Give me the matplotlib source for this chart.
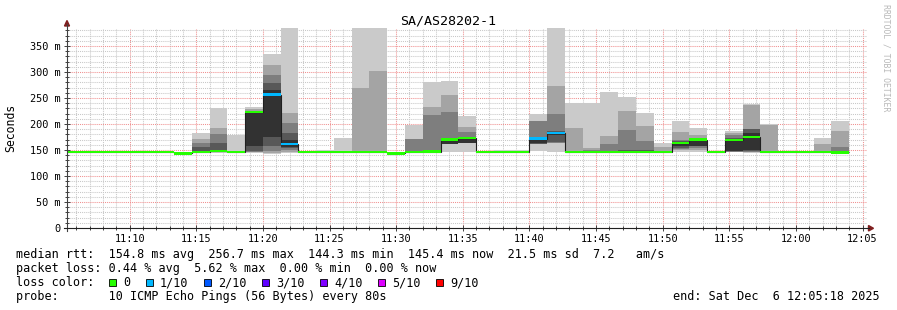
import datetime
import numpy as np
import matplotlib
matplotlib.use('Agg')
import matplotlib.pyplot as plt
from matplotlib import dates
from matplotlib.ticker import MultipleLocator, FuncFormatter
from matplotlib.patches import Rectangle, Polygon
from matplotlib.lines import Line2D

title = 'SA/AS28202-1'
graph_start = datetime.datetime(2025, 12, 6, 11, 5, 18)
graph_end = datetime.datetime(2025, 12, 6, 12, 5, 18)
first_bin = datetime.datetime(2025, 12, 6, 11, 5, 20)
step_seconds = 80

# median rtt per 80s bin (ms)
median_ms = [146.0, 146.0, 146.0, 146.0, 146.0, 146.0, 143.5, 146.0, 148.0, 146.0,
             222.5, 256.7, 161.0, 146.0, 146.0, 146.0, 146.0, 146.0, 143.5, 146.5,
             147.0, 170.0, 173.4, 146.0, 146.0, 146.0, 172.0, 183.0, 146.0, 145.5,
             146.0, 146.0, 146.0, 146.0, 164.0, 170.0, 146.0, 169.5, 175.6, 146.0,
             146.0, 146.0, 146.0, 145.4]

# lost pings out of 10 per bin
loss_tenths = [0, 0, 0, 0, 0, 0, 0, 0, 0, 0,
               0, 1, 1, 0, 0, 0, 0, 0, 0, 0,
               0, 0, 0, 0, 0, 0, 1, 1, 0, 0,
               0, 0, 0, 0, 0, 0, 0, 0, 0, 0,
               0, 0, 0, 0]

# the 10 sorted pings of every bin (ms), used for the smoke
pings_ms = [
    [145.8, 145.9, 146.0, 146.0, 146.0, 146.1, 146.2, 146.3, 146.5, 146.8],
    [145.8, 145.9, 146.0, 146.0, 146.0, 146.1, 146.2, 146.3, 146.5, 146.8],
    [145.8, 145.9, 146.0, 146.0, 146.0, 146.1, 146.2, 146.3, 146.5, 146.8],
    [145.8, 145.9, 146.0, 146.0, 146.0, 146.1, 146.2, 146.3, 146.5, 146.8],
    [145.8, 145.9, 146.0, 146.0, 146.0, 146.1, 146.2, 146.3, 146.5, 146.8],
    [145.8, 145.9, 146.0, 146.0, 146.0, 146.1, 146.2, 146.3, 146.5, 146.8],
    [143.0, 143.2, 143.3, 143.4, 143.5, 143.6, 143.7, 143.9, 144.2, 144.6],
    [145.0, 145.5, 146.0, 146.0, 146.5, 148.0, 156.0, 164.0, 172.0, 183.0],
    [145.0, 145.5, 146.0, 146.5, 147.0, 149.5, 164.0, 181.0, 192.0, 231.0],
    [145.0, 145.5, 145.5, 146.0, 146.0, 146.0, 146.5, 147.0, 148.0, 179.5],
    [145.0, 145.5, 146.0, 148.0, 158.0, 222.0, 223.0, 224.0, 228.0, 233.0],
    [142.0, 145.0, 149.0, 158.0, 175.0, 265.0, 278.0, 294.0, 313.0, 335.0],
    [145.0, 146.0, 150.0, 154.0, 156.0, 170.0, 183.0, 201.0, 222.0, 400.0],
    [145.8, 145.9, 146.0, 146.0, 146.0, 146.1, 146.2, 146.3, 146.5, 146.8],
    [145.8, 145.9, 146.0, 146.0, 146.0, 146.1, 146.2, 146.3, 146.5, 150.5],
    [145.8, 145.9, 146.0, 146.0, 146.0, 146.1, 146.2, 146.3, 146.5, 173.0],
    [145.8, 145.9, 146.0, 146.0, 146.0, 146.1, 146.2, 146.3, 269.0, 400.0],
    [145.8, 145.9, 146.0, 146.0, 146.0, 146.1, 146.2, 146.3, 301.0, 400.0],
    [143.0, 143.2, 143.3, 143.4, 143.5, 143.6, 143.7, 143.9, 144.2, 144.6],
    [146.0, 146.0, 146.0, 146.5, 146.5, 147.0, 147.5, 170.5, 171.0, 198.5],
    [146.0, 146.0, 146.5, 147.0, 147.0, 147.5, 148.0, 217.0, 233.0, 280.0],
    [146.0, 161.0, 161.0, 161.5, 162.0, 169.0, 171.0, 223.0, 256.0, 282.0],
    [146.0, 163.0, 163.0, 163.5, 164.0, 171.0, 174.0, 185.0, 195.0, 215.0],
    [145.8, 145.9, 146.0, 146.0, 146.0, 146.1, 146.2, 146.3, 146.5, 146.8],
    [145.8, 145.9, 146.0, 146.0, 146.0, 146.1, 146.2, 146.3, 146.5, 150.5],
    [145.8, 145.9, 146.0, 146.0, 146.0, 146.1, 146.2, 146.3, 146.5, 150.5],
    [149.0, 161.0, 162.0, 162.0, 163.0, 170.0, 173.0, 205.0, 206.0, 219.0],
    [146.0, 164.0, 164.0, 164.5, 178.0, 185.0, 186.0, 220.0, 273.0, 400.0],
    [146.0, 146.0, 146.5, 147.0, 147.0, 147.5, 148.0, 149.0, 193.0, 241.0],
    [145.0, 145.5, 146.0, 146.5, 147.0, 147.5, 148.0, 150.0, 154.0, 241.0],
    [146.0, 146.5, 147.0, 147.5, 148.0, 148.0, 149.0, 162.0, 177.5, 261.5],
    [146.0, 146.5, 147.0, 148.0, 148.5, 149.0, 150.0, 188.5, 225.5, 251.5],
    [146.0, 146.5, 147.0, 147.5, 148.0, 149.0, 150.0, 167.5, 196.0, 221.0],
    [146.0, 146.0, 146.5, 146.5, 147.0, 147.0, 147.5, 148.0, 156.0, 164.0],
    [146.0, 150.0, 152.0, 153.0, 158.0, 166.0, 168.0, 169.5, 184.5, 206.0],
    [146.0, 150.0, 153.0, 157.0, 158.0, 168.0, 170.0, 172.0, 178.5, 192.5],
    [145.8, 145.9, 146.0, 146.0, 146.0, 146.1, 146.2, 146.3, 146.5, 146.8],
    [146.0, 146.5, 147.0, 147.5, 148.0, 170.0, 173.0, 178.0, 182.0, 187.0],
    [145.0, 146.0, 147.0, 148.0, 150.0, 182.0, 190.0, 190.5, 236.0, 238.5],
    [146.0, 146.0, 146.5, 146.5, 147.0, 147.0, 147.5, 148.0, 197.5, 200.0],
    [145.8, 145.9, 146.0, 146.0, 146.0, 146.1, 146.2, 146.3, 146.5, 146.8],
    [145.8, 145.9, 146.0, 146.0, 146.0, 146.1, 146.2, 146.3, 146.5, 146.8],
    [146.0, 146.0, 146.0, 146.5, 146.5, 147.0, 147.0, 147.5, 161.5, 173.0],
    [145.5, 146.0, 146.5, 147.0, 147.5, 148.0, 149.0, 156.0, 187.0, 206.0],
]

loss_legend = ['0', '1/10', '2/10', '3/10', '4/10', '5/10', '9/10']
loss_legend_colors = ['#26ff00', '#00b8ff', '#0059ff', '#5e00ff', '#7e00ff', '#dd00ff', '#ff0000']
loss_color_of = {0: '#26ff00', 1: '#00b8ff', 2: '#0059ff', 3: '#5e00ff', 4: '#7e00ff', 5: '#dd00ff', 9: '#ff0000'}

rtt_line = 'median rtt:  154.8 ms avg  256.7 ms max  144.3 ms min  145.4 ms now  21.5 ms sd  7.2   am/s'
loss_line = 'packet loss: 0.44 % avg  5.62 % max  0.00 % min  0.00 % now'
probe_line = 'probe:       10 ICMP Echo Pings (56 Bytes) every 80s'
end_line = 'end: Sat Dec  6 12:05:18 2025'

smoke_shades = ['#cacaca', '#a4a4a4', '#7e7e7e', '#585858', '#323232']

W, H = 897, 310
Y_TOP = 384.6


def fx(px):
    return px / W


def fy(py):
    return 1 - py / H


plt.rcParams['font.family'] = 'DejaVu Sans Mono'

fig = plt.figure(figsize=(W / 100, H / 100), dpi=100)
ax = fig.add_axes([fx(67), fy(228), (866.5 - 67) / W, (228 - 28) / H])

starts = dates.date2num([first_bin + datetime.timedelta(seconds=step_seconds * i)
                         for i in range(len(median_ms))])
width = step_seconds / 86400.0
pings = np.array(pings_ms)
med = np.array(median_ms)

# smoke: outer pair first, inner pairs darker on top
for k in range(5):
    lo = pings[:, k]
    hi = pings[:, 9 - k]
    ax.bar(starts, hi - lo, bottom=lo, width=width, align='edge',
           color=smoke_shades[k], linewidth=0, antialiased=False, zorder=2)

edges = np.append(starts, starts[-1] + width)
ax.stairs(med, edges, baseline=None, color='#202020', lw=0.8, zorder=3)

sw = 2.2
ax.bar(starts, 2 * sw, bottom=med - sw, width=width, align='edge',
       color=[loss_color_of[l] for l in loss_tenths], linewidth=0,
       antialiased=False, zorder=4)

ax.set_xlim(dates.date2num(graph_start), dates.date2num(graph_end))
ax.set_ylim(0, Y_TOP)

ax.xaxis.set_major_locator(dates.MinuteLocator(byminute=range(0, 60, 5)))
ax.xaxis.set_minor_locator(dates.MinuteLocator())
ax.xaxis.set_major_formatter(dates.DateFormatter('%H:%M'))
ax.yaxis.set_major_locator(MultipleLocator(50))
ax.yaxis.set_minor_locator(MultipleLocator(10))
ax.yaxis.set_major_formatter(FuncFormatter(lambda v, p: '0' if v == 0 else '%d m' % v))

ax.set_axisbelow(True)
ax.grid(which='minor', color='#c8c8c8', linestyle=(0, (1, 1)), lw=0.75)
ax.grid(which='major', color='#f09090', linestyle=(0, (1, 1)), lw=0.75)

ax.tick_params(which='both', direction='inout', color='#404040', width=0.7,
               labelsize=7.4, labelcolor='black')
ax.tick_params(which='major', length=5, pad=2)
ax.tick_params(which='minor', length=3)
for s in ax.spines.values():
    s.set_visible(False)

# axes with arrows
fig.add_artist(Line2D([fx(67), fx(67)], [fy(231), fy(24)], color='#404040', lw=0.8))
fig.add_artist(Line2D([fx(64), fx(869)], [fy(228), fy(228)], color='#202020', lw=0.8))
fig.add_artist(Polygon([[fx(67), fy(20.5)], [fx(64.5), fy(26)], [fx(69.5), fy(26)]],
                       closed=True, color='#801f1f', transform=fig.transFigure))
fig.add_artist(Polygon([[fx(873.5), fy(228.3)], [fx(868.5), fy(225.5)], [fx(868.5), fy(231)]],
                       closed=True, color='#801f1f', transform=fig.transFigure))

fig.text(fx(448), fy(24), title, ha='center', va='baseline', fontsize=9.6)
fig.text(fx(11), fy(128), 'Seconds', rotation=90, ha='center', va='center', fontsize=8.3)
fig.text(fx(886), fy(4), 'RRDTOOL / TOBI OETIKER', rotation=270, ha='center', va='top',
         fontsize=5.9, color='#b8b8b8')

# legend block
cw = 7.1
fig.text(fx(16), fy(258.3), rtt_line, fontsize=8.5, va='baseline')
fig.text(fx(16), fy(272.3), loss_line, fontsize=8.5, va='baseline')
fig.text(fx(16), fy(286.3), 'loss color:', fontsize=8.5, va='baseline')
fig.text(fx(16), fy(300.3), probe_line, fontsize=8.5, va='baseline')
fig.text(fx(880), fy(300.3), end_line, fontsize=8.5, va='baseline', ha='right')

sq_x = 109.0
for lab, col in zip(loss_legend, loss_legend_colors):
    fig.add_artist(Rectangle((fx(sq_x), fy(285.8)), 7 / W, 7 / H, facecolor=col,
                             edgecolor='black', lw=0.6, transform=fig.transFigure))
    lab_x = sq_x + 14
    fig.text(fx(lab_x), fy(286.3), lab, fontsize=8.5, va='baseline')
    sq_x = lab_x + (len(lab) + 2) * cw + 1.5

fig.savefig('out.png', dpi=100)
